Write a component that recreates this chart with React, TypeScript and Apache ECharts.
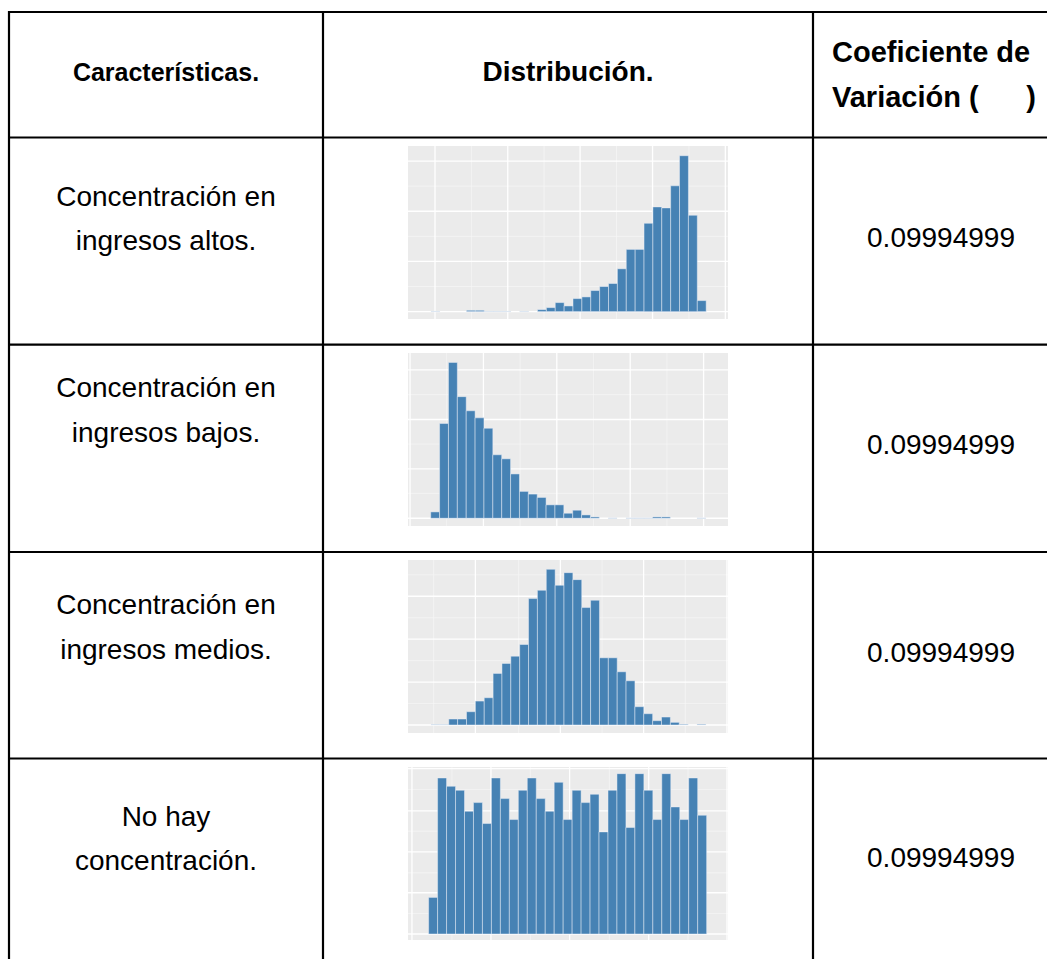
import React, { useEffect, useRef } from "react";
import * as echarts from "echarts";

// ---- table texts ----
const headerCharacteristics = "Características.";
const headerDistribution = "Distribución.";
const headerCoefLine1 = "Coeficiente de";
const headerCoefLine2 = "Variación (";
const headerCoefClose = ")";
const characteristics: string[][] = [
  ["Concentración en", "ingresos altos."],
  ["Concentración en", "ingresos bajos."],
  ["Concentración en", "ingresos medios."],
  ["No hay", "concentración."],
];
const coefficients = ["0.09994999", "0.09994999", "0.09994999", "0.09994999"];

// ---- histogram counts (31 bins each) ----
const countsAltos = [1, 0, 0, 0, 4, 4, 1, 1, 1, 0, 1, 0, 6, 12, 27, 17, 39, 44, 63, 75, 84, 128, 186, 186, 264, 313, 310, 376, 466, 288, 33];
const countsBajos = [19, 282, 464, 362, 320, 299, 268, 189, 177, 132, 80, 72, 62, 40, 40, 15, 24, 10, 4, 0, 1, 0, 1, 1, 1, 4, 4, 0, 0, 0, 1];
const countsMedios = [1, 1, 18, 18, 40, 72, 82, 155, 185, 207, 242, 380, 405, 468, 420, 458, 437, 353, 375, 202, 202, 160, 133, 55, 34, 13, 24, 8, 2, 0, 2];
const countsUniforme = [110, 469, 444, 432, 369, 395, 332, 469, 407, 344, 432, 469, 407, 369, 456, 344, 432, 395, 420, 307, 432, 482, 320, 482, 432, 344, 482, 382, 344, 469, 357];

// ---- axis ranges and gridline tick values (bin units / count units) ----
const xRangeAltos = [-2.59, 33.46];
const yRangeAltos = [-22, 495];
const xMajorAltos = [0.45, 8.65, 16.8, 24.96, 33.16];
const xMinorAltos = [4.55, 12.74, 20.9, 29.06];
const yMajorAltos = [0, 150, 300, 450];
const yMinorAltos = [75, 225, 375];

const xRangeBajos = [-2.56, 33.5];
const yRangeBajos = [-23, 492];
const xMajorBajos = [-2.33, 5.94, 14.21, 22.48, 30.75];
const xMinorBajos = [1.8, 10.08, 18.35, 26.62];
const yMajorBajos = [0, 147, 294, 442];
const yMinorBajos = [74, 221, 368];

const xRangeMedios = [-2.6, 33.5];
const yRangeMedios = [-24, 496];
const xMajorMedios = [5.0, 14.59, 23.98, 33.38];
const xMinorMedios = [0.3, 9.89, 19.29, 28.68];
const yMajorMedios = [0, 129, 258, 387];
const yMinorMedios = [64.5, 193.5, 322.5, 451.5];

const xRangeUniforme = [-2.3, 33.38];
const yRangeUniforme = [-18, 502];
const xMajorUniforme = [-1.86, 6.95, 15.72, 24.54, 33.27];
const xMinorUniforme = [2.6, 11.34, 20.15, 28.92];
const yMajorUniforme = [0, 124, 247, 370, 497];
const yMinorUniforme = [62, 184, 309, 434];

const histograms = [
  { counts: countsAltos, xr: xRangeAltos, yr: yRangeAltos, xM: xMajorAltos, xm: xMinorAltos, yM: yMajorAltos, ym: yMinorAltos },
  { counts: countsBajos, xr: xRangeBajos, yr: yRangeBajos, xM: xMajorBajos, xm: xMinorBajos, yM: yMajorBajos, ym: yMinorBajos },
  { counts: countsMedios, xr: xRangeMedios, yr: yRangeMedios, xM: xMajorMedios, xm: xMinorMedios, yM: yMajorMedios, ym: yMinorMedios },
  { counts: countsUniforme, xr: xRangeUniforme, yr: yRangeUniforme, xM: xMajorUniforme, xm: xMinorUniforme, yM: yMajorUniforme, ym: yMinorUniforme },
];

// ---- layout ----
const W = 1047;
const H = 959;
const FONT = '"Liberation Sans", Arial, sans-serif';
const rowLines = [12, 137.5, 344.7, 552, 758.5];
const colLines = [9, 323, 813];
const histTops = [146, 353, 560, 767];
const histLeft = 408;
const histW = 320;
const histH = 173;
const rowTextY = [[196, 240], [387, 432], [604, 649], [816, 860]];
const valueY = [237, 444, 652, 857];

function vGridSeries(k: number, xs: number[], yr: number[], width: number, color: string) {
  return {
    type: "custom",
    xAxisIndex: k,
    yAxisIndex: k,
    z: 1,
    silent: true,
    data: xs.map((x) => [x, yr[0]]),
    renderItem: (_p: any, api: any) => {
      const x = api.value(0);
      const a = api.coord([x, yr[0]]);
      const b = api.coord([x, yr[1]]);
      return { type: "line", shape: { x1: a[0], y1: a[1], x2: b[0], y2: b[1] }, style: { stroke: color, lineWidth: width } };
    },
  };
}
function hGridSeries(k: number, ys: number[], xr: number[], width: number, color: string) {
  return {
    type: "custom",
    xAxisIndex: k,
    yAxisIndex: k,
    z: 1,
    silent: true,
    data: ys.map((y) => [xr[0], y]),
    renderItem: (_p: any, api: any) => {
      const y = api.value(1);
      const a = api.coord([xr[0], y]);
      const b = api.coord([xr[1], y]);
      return { type: "line", shape: { x1: a[0], y1: a[1], x2: b[0], y2: b[1] }, style: { stroke: color, lineWidth: width } };
    },
  };
}

export default function App() {
  const ref = useRef<HTMLDivElement>(null);
  useEffect(() => {
    if (!ref.current) return;
    const chart = echarts.init(ref.current, undefined, { renderer: "svg" });
    const grids: any[] = [];
    const xAxes: any[] = [];
    const yAxes: any[] = [];
    const series: any[] = [];
    histograms.forEach((h, k) => {
      grids.push({ left: histLeft, top: histTops[k], width: histW, height: histH, show: true, backgroundColor: "#EBEBEB", borderWidth: 0 });
      xAxes.push({ type: "value", gridIndex: k, min: h.xr[0], max: h.xr[1], show: false });
      yAxes.push({ type: "value", gridIndex: k, min: h.yr[0], max: h.yr[1], show: false });
      series.push(vGridSeries(k, h.xm, h.yr, 0.7, "#F6F6F6"));
      series.push(hGridSeries(k, h.ym, h.xr, 0.7, "#F6F6F6"));
      series.push(vGridSeries(k, h.xM, h.yr, 1.3, "#FFFFFF"));
      series.push(hGridSeries(k, h.yM, h.xr, 1.3, "#FFFFFF"));
      series.push({
        type: "custom",
        xAxisIndex: k,
        yAxisIndex: k,
        z: 2,
        silent: true,
        data: h.counts.map((c, i) => [i, c]),
        renderItem: (_p: any, api: any) => {
          const i = api.value(0);
          const v = api.value(1);
          if (!(v > 0)) return null;
          const p0 = api.coord([i, 0]);
          const p1 = api.coord([i + 1, v]);
          return {
            type: "rect",
            shape: { x: p0[0], y: p1[1], width: p1[0] - p0[0], height: p0[1] - p1[1] },
            style: { fill: "#4682B4", stroke: "rgba(235,240,248,0.6)", lineWidth: 0.8 },
          };
        },
      });
    });

    const graphics: any[] = [];
    rowLines.forEach((y) => {
      graphics.push({ type: "line", shape: { x1: colLines[0] - 1, y1: y, x2: W + 10, y2: y }, style: { stroke: "#000", lineWidth: 2.2 } });
    });
    colLines.forEach((x) => {
      graphics.push({ type: "line", shape: { x1: x, y1: rowLines[0] - 1, x2: x, y2: H + 10 }, style: { stroke: "#000", lineWidth: 2.2 } });
    });
    const txt = (text: string, x: number, y: number, font: string, align = "center") => ({
      type: "text",
      style: { text, x, y, font, fill: "#000", textAlign: align, textVerticalAlign: "middle" },
    });
    graphics.push(txt(headerCharacteristics, 166, 72, `bold 25px ${FONT}`));
    graphics.push(txt(headerDistribution, 568, 71, `bold 28px ${FONT}`));
    graphics.push(txt(headerCoefLine1, 832, 52, `bold 29px ${FONT}`, "left"));
    graphics.push(txt(headerCoefLine2, 832, 97, `bold 29px ${FONT}`, "left"));
    graphics.push(txt(headerCoefClose, 1031, 97, `bold 29px ${FONT}`, "center"));
    characteristics.forEach((lines, r) => {
      lines.forEach((line, j) => {
        graphics.push(txt(line, 166, rowTextY[r][j], `28px ${FONT}`));
      });
      graphics.push(txt(coefficients[r], 941, valueY[r], `28px ${FONT}`));
    });

    chart.setOption({
      animation: false,
      backgroundColor: "#FFFFFF",
      grid: grids,
      xAxis: xAxes,
      yAxis: yAxes,
      series,
      graphic: graphics,
    });
    return () => chart.dispose();
  }, []);
  return <div ref={ref} style={{ position: "absolute", left: 0, top: 0, width: W, height: H }} />;
}
